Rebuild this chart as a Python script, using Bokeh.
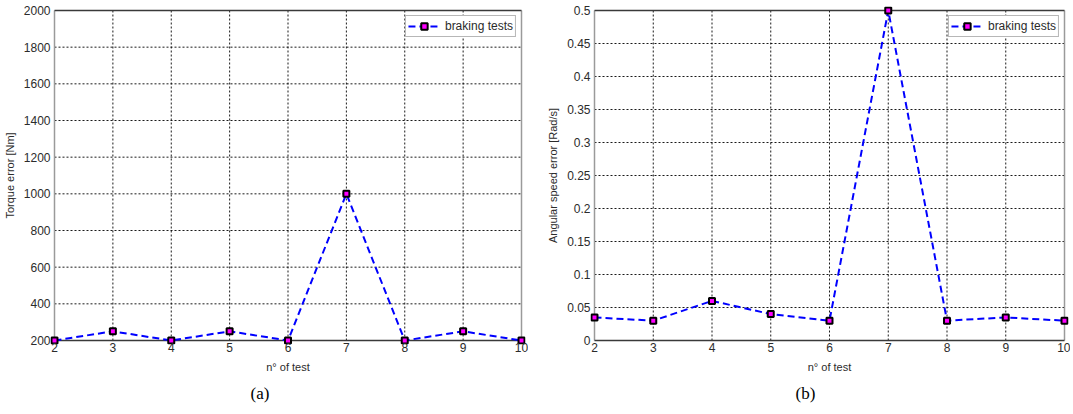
from bokeh.plotting import figure
from bokeh.layouts import row
from bokeh.models import FixedTicker, Legend, LegendItem, Title, Range1d
from bokeh.embed import file_html
from bokeh.resources import INLINE

tests = [2, 3, 4, 5, 6, 7, 8, 9, 10]
torque_err = [200, 250, 200, 250, 200, 1000, 200, 250, 200]
speed_err = [0.035, 0.03, 0.06, 0.04, 0.03, 0.5, 0.03, 0.035, 0.03]

x_ticks = [2, 3, 4, 5, 6, 7, 8, 9, 10]
y_ticks_a = [200, 400, 600, 800, 1000, 1200, 1400, 1600, 1800, 2000]
y_ticks_b = [0, 0.05, 0.1, 0.15, 0.2, 0.25, 0.3, 0.35, 0.4, 0.45, 0.5]
y_labels_b = ["0", "0.05", "0.1", "0.15", "0.2", "0.25", "0.3", "0.35", "0.4", "0.45", "0.5"]

legend_text = "braking tests"
x_label = "n° of test"

FONT = "Liberation Sans"
TXT = "#2b2b2b"
PAD = 4  # px of room around the box so edge markers are not clipped
FRAME_H = 338


def make(ys, yticks, ylabel, caption, frame_w, bl, br, cap_off, overrides=None):
    x0, x1 = x_ticks[0], x_ticks[-1]
    y0, y1 = yticks[0], yticks[-1]
    dx = PAD * (x1 - x0) / (frame_w - 2 * PAD)
    dy = PAD * (y1 - y0) / (FRAME_H - 2 * PAD)
    p = figure(frame_width=frame_w, frame_height=FRAME_H, output_backend="svg",
               toolbar_location=None,
               x_range=Range1d(x0 - dx, x1 + dx), y_range=Range1d(y0 - dy, y1 + dy),
               min_border_left=bl, min_border_right=br, min_border_top=6, min_border_bottom=0)
    p.outline_line_color = None
    p.grid.visible = False
    for ax in (p.xaxis[0], p.yaxis[0]):
        ax.axis_line_color = None
        ax.major_tick_line_color = None
        ax.minor_tick_line_color = None
        ax.major_tick_in = 0
        ax.major_tick_out = 0
        ax.major_label_text_font = FONT
        ax.major_label_text_font_size = "12px"
        ax.major_label_text_color = TXT
        ax.axis_label_text_font = FONT
        ax.axis_label_text_font_size = "11px"
        ax.axis_label_text_font_style = "normal"
        ax.axis_label_text_color = TXT
    p.xaxis.ticker = FixedTicker(ticks=x_ticks)
    p.yaxis.ticker = FixedTicker(ticks=yticks)
    if overrides:
        p.yaxis.major_label_overrides = overrides
    p.xaxis.axis_label = x_label
    p.yaxis.axis_label = ylabel
    p.xaxis.major_label_standoff = -2
    p.xaxis.axis_label_standoff = 6
    p.yaxis.major_label_standoff = 0
    p.yaxis.axis_label_standoff = 5

    # dotted grid at the interior ticks, spanning the axes box
    gx = x_ticks[1:-1]
    gy = yticks[1:-1]
    p.segment(x0=gx, y0=[y0] * len(gx), x1=gx, y1=[y1] * len(gx),
              line_color="black", line_width=1, line_dash="2 2", line_alpha=0.9)
    p.segment(x0=[x0] * len(gy), y0=gy, x1=[x1] * len(gy), y1=gy,
              line_color="black", line_width=1, line_dash="2 2", line_alpha=0.9)
    # axes box: dark bottom/top, grey sides
    p.segment(x0=[x0, x1], y0=[y0, y0], x1=[x0, x1], y1=[y1, y1],
              line_color="#9a9a9a", line_width=1.5)
    p.segment(x0=[x0, x0], y0=[y0, y1], x1=[x1, x1], y1=[y0, y1],
              line_color="#3a3a3a", line_width=1.5)

    l = p.line(tests, ys, line_color="#0000ff", line_width=2, line_dash="7 4")
    m = p.scatter(tests, ys, marker="square", size=6, line_color="black", line_width=2,
                  fill_color="#ff00ff")
    leg = Legend(items=[LegendItem(label=legend_text, renderers=[l, m])],
                 location="top_right", margin=9, padding=2, spacing=0,
                 glyph_width=32, glyph_height=16, label_height=16, label_standoff=5,
                 label_text_font=FONT, label_text_font_size="12px", label_text_color=TXT,
                 border_line_color="#707070", border_line_width=1,
                 background_fill_color="white", background_fill_alpha=1)
    p.add_layout(leg, "center")
    t = Title(text=caption, align="left", offset=cap_off, text_font="Liberation Serif",
              text_font_size="17px", text_font_style="normal", text_color="black",
              standoff=12)
    p.add_layout(t, "below")
    return p


pa = make(torque_err, y_ticks_a, "Torque error [Nm]", "(a)", 475, 44, 3, 200)
pb = make(speed_err, y_ticks_b, "Angular speed error [Rad/s]", "(b)", 478, 62, 2, 205,
          overrides={v: s for v, s in zip(y_ticks_b, y_labels_b)})

lay = row(pa, pb)
open("out.html", "w").write(file_html(lay, INLINE))
